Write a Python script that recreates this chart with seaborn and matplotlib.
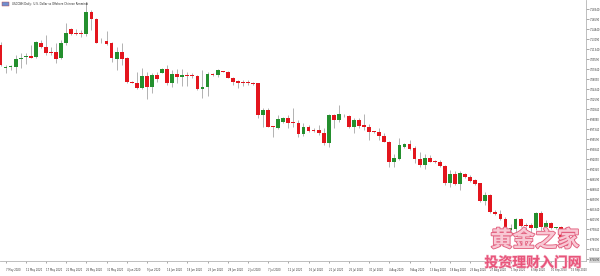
import matplotlib
matplotlib.use("Agg")
import matplotlib.pyplot as plt
import matplotlib.patheffects as pe
from matplotlib.patches import Rectangle
import seaborn as sns
import numpy as np
import pandas as pd

# ---------------- data (USDCNH, Daily) ----------------
opens = [7.1213, 7.0810, 7.0828, 7.0833, 7.0968, 7.1003, 7.1020, 7.0997, 7.1242, 7.1183,
         7.1095, 7.1095, 7.0980, 7.1242, 7.1487, 7.1423, 7.1428, 7.1400, 7.1785, 7.1668,
         7.1305, 7.1288, 7.1242, 7.0968, 7.1095, 7.0990, 7.0560, 7.0553, 7.0465, 7.0675,
         7.0483, 7.0688, 7.0728, 7.0787, 7.0542, 7.0705, 7.0658, 7.0688, 7.0688, 7.0670,
         7.0437, 7.0472, 7.0705, 7.0688, 7.0758, 7.0745, 7.0640, 7.0583, 7.0570, 7.0565,
         7.0548, 7.0542, 6.9988, 7.0075, 6.9790, 6.9765, 6.9870, 6.9930, 6.9870, 6.9853,
         6.9650, 6.9772, 6.9730, 6.9725, 6.9667, 6.9492, 6.9988, 6.9900, 6.9975, 6.9975,
         6.9772, 6.9900, 6.9813, 6.9783, 6.9702, 6.9695, 6.9625, 6.9520, 6.9170, 6.9218,
         6.9433, 6.9475, 6.9405, 6.9218, 6.9113, 6.9240, 6.9183, 6.9170, 6.9095, 6.8792,
         6.8960, 6.8775, 6.8952, 6.8897, 6.8850, 6.8792, 6.8488, 6.8588, 6.8295, 6.8255,
         6.8168, 6.7975, 6.7987, 6.8168, 6.8063, 6.8063, 6.8005, 6.8278, 6.8022, 6.8092,
         6.8005, 6.8022]
highs = [7.1265, 7.0863, 7.0863, 7.1038, 7.1073, 7.1067, 7.1213, 7.1275, 7.1300, 7.1388,
         7.1183, 7.1242, 7.1300, 7.1603, 7.1505, 7.1487, 7.1475, 7.1970, 7.1825, 7.1680,
         7.1340, 7.1463, 7.1270, 7.1183, 7.1242, 7.0997, 7.0588, 7.0745, 7.0805, 7.0745,
         7.0717, 7.0745, 7.0805, 7.0863, 7.0775, 7.0787, 7.0787, 7.0745, 7.0717, 7.0688,
         7.0775, 7.0745, 7.0717, 7.0787, 7.0763, 7.0763, 7.0658, 7.0600, 7.0600, 7.0600,
         7.0560, 7.0553, 7.0105, 7.0105, 6.9800, 6.9988, 6.9958, 6.9988, 7.0105, 6.9900,
         6.9842, 6.9813, 6.9755, 6.9813, 6.9755, 7.0000, 7.0000, 7.0163, 7.0000, 6.9988,
         6.9930, 6.9930, 7.0000, 6.9825, 6.9713, 6.9755, 6.9667, 6.9533, 6.9300, 6.9580,
         6.9492, 6.9550, 6.9450, 6.9335, 6.9300, 6.9288, 6.9200, 6.9200, 6.9113, 6.9025,
         6.9008, 6.9016, 6.8973, 6.8938, 6.8862, 6.8803, 6.8645, 6.8600, 6.8325, 6.8325,
         6.8197, 6.8080, 6.8190, 6.8190, 6.8092, 6.8092, 6.8295, 6.8313, 6.8150, 6.8120,
         6.8033, 6.8045]
lows = [7.0845, 7.0723, 7.0775, 7.0728, 7.0810, 7.0880, 7.0980, 7.0980, 7.1155, 7.1038,
        7.1038, 7.0892, 7.0962, 7.1213, 7.1388, 7.1388, 7.1358, 7.1370, 7.1475, 7.1242,
        7.1253, 7.1213, 7.0920, 7.0775, 7.0863, 7.0553, 7.0542, 7.0437, 7.0437, 7.0262,
        7.0367, 7.0570, 7.0717, 7.0513, 7.0472, 7.0553, 7.0495, 7.0495, 7.0630, 7.0425,
        7.0280, 7.0320, 7.0670, 7.0658, 7.0740, 7.0630, 7.0513, 7.0455, 7.0495, 7.0513,
        7.0513, 6.9930, 6.9783, 6.9772, 6.9608, 6.9743, 6.9853, 6.9755, 6.9783, 6.9608,
        6.9620, 6.9695, 6.9695, 6.9638, 6.9463, 6.9433, 6.9755, 6.9870, 6.9958, 6.9755,
        6.9667, 6.9755, 6.9725, 6.9550, 6.9678, 6.9550, 6.9510, 6.9083, 6.9083, 6.9200,
        6.9415, 6.9375, 6.9142, 6.9083, 6.9043, 6.9160, 6.9142, 6.9083, 6.8763, 6.8728,
        6.8763, 6.8675, 6.8880, 6.8820, 6.8763, 6.8470, 6.8413, 6.8278, 6.8238, 6.8150,
        6.7917, 6.7888, 6.7945, 6.8022, 6.8022, 6.7945, 6.7975, 6.7963, 6.7945, 6.7993,
        6.7993, 6.7660]
closes = [7.0863, 7.0828, 7.0840, 7.0962, 7.0990, 7.1011, 7.0990, 7.1270, 7.1183, 7.1067,
          7.1078, 7.0968, 7.1242, 7.1428, 7.1400, 7.1410, 7.1400, 7.1785, 7.1668, 7.1253,
          7.1295, 7.1230, 7.0980, 7.1095, 7.0968, 7.0570, 7.0548, 7.0465, 7.0675, 7.0483,
          7.0688, 7.0618, 7.0787, 7.0542, 7.0700, 7.0658, 7.0688, 7.0675, 7.0675, 7.0437,
          7.0472, 7.0700, 7.0693, 7.0775, 7.0745, 7.0640, 7.0570, 7.0542, 7.0542, 7.0548,
          7.0535, 6.9988, 7.0075, 6.9783, 6.9778, 6.9918, 6.9930, 6.9853, 6.9853, 6.9650,
          6.9772, 6.9713, 6.9713, 6.9667, 6.9492, 6.9988, 6.9900, 7.0000, 6.9965, 6.9772,
          6.9900, 6.9800, 6.9772, 6.9695, 6.9690, 6.9625, 6.9520, 6.9170, 6.9230, 6.9463,
          6.9475, 6.9393, 6.9218, 6.9113, 6.9240, 6.9170, 6.9170, 6.9095, 6.8792, 6.8960,
          6.8777, 6.8973, 6.8894, 6.8841, 6.8780, 6.8488, 6.8588, 6.8295, 6.8255, 6.8168,
          6.7987, 6.8005, 6.8168, 6.8045, 6.8045, 6.8005, 6.8267, 6.8022, 6.8092, 6.8005,
          6.8022, 6.7695]

date_labels = ["7 May 2020", "12 May 2020", "17 May 2020", "21 May 2020", "26 May 2020",
               "31 May 2020", "4 Jun 2020", "9 Jun 2020", "14 Jun 2020", "18 Jun 2020",
               "23 Jun 2020", "28 Jun 2020", "2 Jul 2020", "7 Jul 2020", "12 Jul 2020",
               "16 Jul 2020", "21 Jul 2020", "26 Jul 2020", "30 Jul 2020", "4 Aug 2020",
               "9 Aug 2020", "13 Aug 2020", "18 Aug 2020", "23 Aug 2020", "27 Aug 2020",
               "1 Sep 2020", "6 Sep 2020", "10 Sep 2020", "15 Sep 2020"]
date_label_bars = [1, 5, 9, 13, 17, 21, 25, 29, 33, 37, 41, 45, 49, 53, 57,
                   61, 65, 69, 73, 77, 81, 85, 89, 93, 97, 101, 105, 109, 113]

price_ticks = [7.18340, 7.16590, 7.14840, 7.13090, 7.11340, 7.09590, 7.07840, 7.06090,
               7.04340, 7.02590, 7.00840, 6.99090, 6.97340, 6.95590, 6.93840, 6.92090,
               6.90340, 6.88590, 6.86840, 6.85090, 6.83340, 6.81590, 6.79840, 6.78090,
               6.76340, 6.74590]

title = "USDCNH,Daily:  U.S. Dollar vs Offshore Chinese Renminbi"

# ---------------- style ----------------
sns.set_style("white")
plt.rcParams['font.family'] = ['DejaVu Sans']

UP = '#248f2e'
DOWN = '#e3151d'
WICK = '#a6a6a6'

df = pd.DataFrame({'open': opens, 'high': highs, 'low': lows, 'close': closes})
df['bar'] = np.arange(len(df))
df['up'] = df['close'] >= df['open']
df['body_low'] = df[['open', 'close']].min(axis=1)
df['body_h'] = (df['close'] - df['open']).abs().clip(lower=0.0011)

fig = plt.figure(figsize=(6, 2.76), dpi=100)
ax = fig.add_axes([0, 15 / 276, 586 / 600, 261 / 276])

ax.vlines(df['bar'], df['low'], df['high'], color=WICK, lw=0.6, zorder=1)
ax.bar(df['bar'], df['body_h'], bottom=df['body_low'], width=0.75,
       color=np.where(df['up'], UP, DOWN), lw=0, zorder=2)

ax.set_xlim(-0.1, 115.95)
ax.set_ylim(6.74325, 7.2)

for s in ['left', 'top']:
    ax.spines[s].set_visible(False)
for s in ['right', 'bottom']:
    ax.spines[s].set_color('#b4b4b4')
    ax.spines[s].set_linewidth(0.6)

ax.yaxis.tick_right()
ax.set_yticks(price_ticks)
ax.set_yticklabels([f"{v:.5f}" for v in price_ticks])
ax.tick_params(axis='y', length=2, width=0.4, color='#666666', labelsize=1.8,
               labelcolor='#333333', pad=0.8, right=True, left=False)
ylabs = ax.get_yticklabels()
ylabs[-1].set_bbox(dict(facecolor='#d6d6d6', edgecolor='none', pad=0.4))

ax.set_xticks(date_label_bars)
ax.set_xticklabels(date_labels, ha='left')
ax.tick_params(axis='x', length=1.5, width=0.4, color='#666666', labelsize=1.8,
               labelcolor='#333333', pad=3.2, bottom=True)
ax.grid(False)

# header
fig.patches.append(Rectangle((2 / 600, 1 - 6 / 276), 7 / 600, 4.5 / 276,
                             transform=fig.transFigure, facecolor='#6f8fcf',
                             edgecolor='#c04040', lw=0.3))
fig.text(12 / 600, 1 - 3.6 / 276, title, fontsize=1.9, color='#222222',
         ha='left', va='center')

# watermark
fig.text(535 / 600, 1 - 240 / 276, '黄金之家', fontsize=16,
         family=['Noto Sans CJK SC', 'DejaVu Sans'], weight='bold',
         color='#f8c8d4', ha='center', va='center',
         path_effects=[pe.withStroke(linewidth=1.3, foreground='#e2607f')])
fig.text(533 / 600, 1 - 263 / 276, '投资理财入门网', fontsize=10,
         family=['Noto Sans CJK SC', 'DejaVu Sans'], weight='bold',
         color='#e8557b', ha='center', va='center',
         path_effects=[pe.withStroke(linewidth=0.8, foreground='#f6c0cf')])

fig.savefig('out.png', dpi=100)
